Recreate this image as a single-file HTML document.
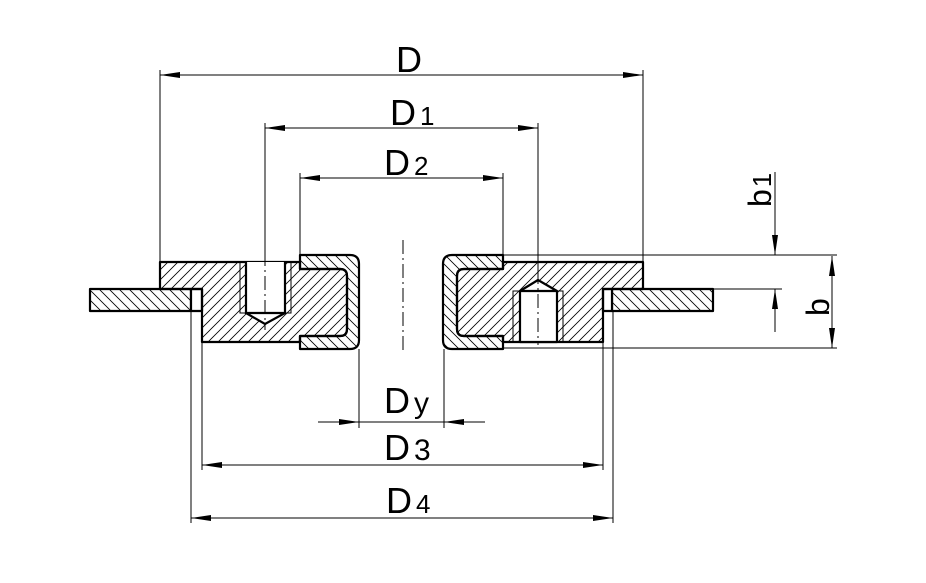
<!DOCTYPE html>
<html><head><meta charset="utf-8"><style>html,body{margin:0;padding:0;background:#fff}svg{display:block}</style></head><body>
<svg width="926" height="583" viewBox="0 0 926 583" xmlns="http://www.w3.org/2000/svg">
<defs>
<pattern id="hf" patternUnits="userSpaceOnUse" width="10" height="10"><path d="M-1,11 L11,-1 M-6,6 L6,-6 M4,16 L16,4" stroke="#000" stroke-width="0.8"/></pattern>
<pattern id="hb" patternUnits="userSpaceOnUse" width="10" height="10"><path d="M-1,-1 L11,11 M-6,4 L6,16 M4,-6 L16,6" stroke="#000" stroke-width="0.8"/></pattern>
<marker id="a" viewBox="0 0 20 6" refX="20" refY="3" markerWidth="20" markerHeight="6" markerUnits="userSpaceOnUse" orient="auto-start-reverse"><path d="M0,0 L20,3 L0,6 Z" fill="#000"/></marker>
</defs>
<g fill="none" stroke="#000" stroke-width="1">
<path d="M160,70V262 M643,70V262 M265,123V262 M538,123V280 M300,173V255 M503,173V255"/>
<path d="M359,349V428 M444,349V428 M202,342V470 M603,342V470 M191,311V523 M613,311V523"/>
<path d="M503,255H837 M503,348H837 M713,289H782"/>
<path d="M160,75H643" marker-start="url(#a)" marker-end="url(#a)"/>
<path d="M265,128H538" marker-start="url(#a)" marker-end="url(#a)"/>
<path d="M300,178H503" marker-start="url(#a)" marker-end="url(#a)"/>
<path d="M202,465H603" marker-start="url(#a)" marker-end="url(#a)"/>
<path d="M191,518H613" marker-start="url(#a)" marker-end="url(#a)"/>
<path d="M318,422H359" marker-end="url(#a)"/>
<path d="M485,422H444" marker-end="url(#a)"/>
<path d="M318,422H485"/>
<path d="M775,172V255" marker-end="url(#a)"/>
<path d="M775,332V289" marker-end="url(#a)"/>
<path d="M832,256V348" marker-start="url(#a)" marker-end="url(#a)"/>
</g>
<g stroke="#000" stroke-width="2.2" stroke-linejoin="round">
<rect x="90" y="289" width="101" height="22" fill="url(#hb)"/>
<rect x="191" y="289" width="11" height="22" fill="#fff"/>
<rect x="612" y="289" width="101" height="22" fill="url(#hb)"/>
<rect x="603" y="289" width="9" height="22" fill="#fff"/>
<path d="M160,262H300V269H340Q347,269 347,276V329Q347,336 340,336H300V342H202V289H160Z" fill="url(#hf)"/>
<path d="M643,262H503V269H464Q457,269 457,276V329Q457,336 464,336H503V342H603V289H643Z" fill="url(#hf)"/>
<path d="M300,255H350Q359,255 359,264V340Q359,349 350,349H300V336H340Q347,336 347,329V276Q347,269 340,269H300Z" fill="url(#hb)"/>
<path d="M503,255H452Q443,255 443,264V340Q443,349 452,349H503V336H464Q457,336 457,329V276Q457,269 464,269H503Z" fill="url(#hb)"/>
</g>
<g stroke="#000">
<path d="M240,262V313H291V262 M513,342V291H563V342" fill="none" stroke-width="1"/>
<path d="M246,262V313L265,324L285,313V262Z" fill="#fff" stroke="none"/>
<path d="M520,342V291L538,280L557,291V342Z" fill="#fff" stroke="none"/>
<path d="M246,262V313H285V262 M246,313L265,324L285,313" fill="none" stroke-width="2.2"/>
<path d="M520,342V291H557V342Z M520,291L538,280L557,291" fill="none" stroke-width="2.2" stroke-linejoin="round"/>
</g>
<g stroke="#000" stroke-width="1" fill="none">
<path d="M265,252V330 M538,270V345" stroke-dasharray="14,4,2,4"/>
<path d="M403,240V352" stroke-dasharray="14,4,2,4"/>
</g>
<g font-family="Liberation Sans, sans-serif" fill="#000">
<text x="396" y="72" font-size="36">D</text>
<text x="390" y="125" font-size="36">D<tspan font-size="26" dx="4">1</tspan></text>
<text x="384" y="175" font-size="36">D<tspan font-size="26" dx="4">2</tspan></text>
<text x="384" y="413" font-size="36">D<tspan font-size="30" dx="4">y</tspan></text>
<text x="384" y="460" font-size="36">D<tspan font-size="30" dx="4">3</tspan></text>
<text x="386" y="513" font-size="36">D<tspan font-size="26" dx="4">4</tspan></text>
<text transform="translate(771,207) rotate(-90)" font-size="32">b<tspan font-size="26" dx="2">1</tspan></text>
<text transform="translate(829,316) rotate(-90)" font-size="32">b</text>
</g>
</svg>
</body></html>
